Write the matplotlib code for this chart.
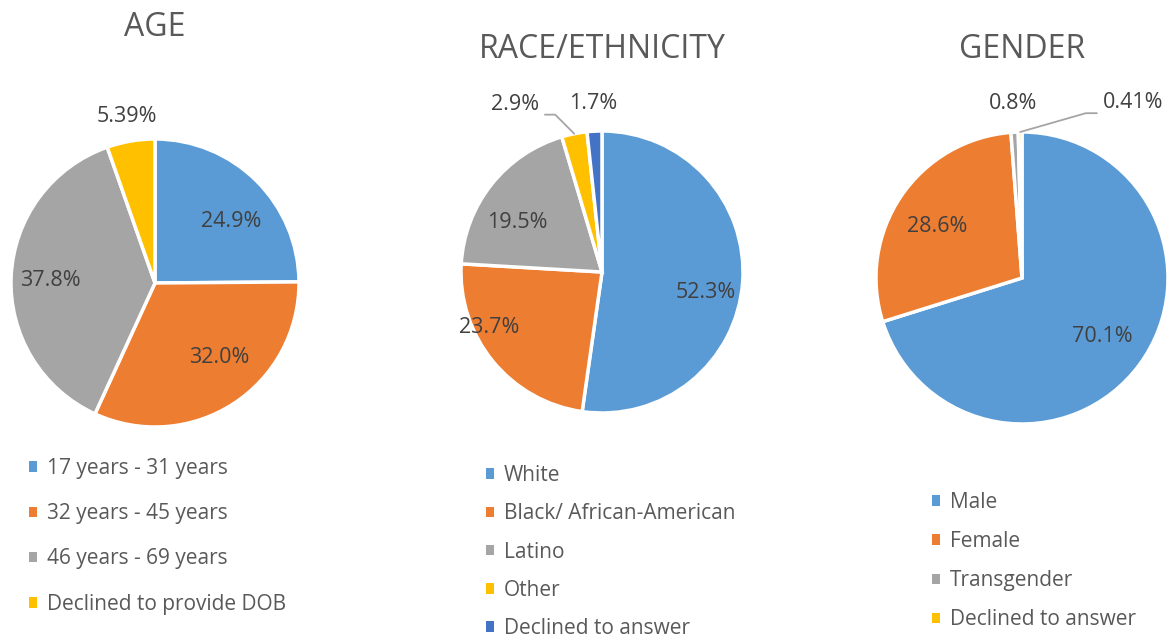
import numpy as np
import matplotlib.pyplot as plt
from matplotlib.patches import Patch

plt.rcParams['font.family'] = ['Open Sans', 'DejaVu Sans']

W, H = 1171, 637

# data
age_names = ['17 years - 31 years', '32 years - 45 years', '46 years - 69 years', 'Declined to provide DOB']
age_values = [24.9, 32.0, 37.8, 5.39]
age_text = ['24.9%', '32.0%', '37.8%', '5.39%']

race_names = ['White', 'Black/ African-American', 'Latino', 'Other', 'Declined to answer']
race_values = [52.3, 23.7, 19.5, 2.9, 1.7]
race_text = ['52.3%', '23.7%', '19.5%', '2.9%', '1.7%']

gender_names = ['Male', 'Female', 'Transgender', 'Declined to answer']
gender_values = [70.1, 28.6, 0.8, 0.41]
gender_text = ['70.1%', '28.6%', '0.8%', '0.41%']

colors = ['#5B9BD5', '#ED7D31', '#A5A5A5', '#FFC000', '#4472C4']

fig = plt.figure(figsize=(W / 100, H / 100), dpi=100)


def draw(cx, cy, r, values, texts, names, title, title_y, label_pos, leaders, leg_xy, leg_space):
    ax = fig.add_axes([(cx - r) / W, 1 - (cy + r) / H, 2 * r / W, 2 * r / H])
    wedges, _ = ax.pie(values, colors=colors[:len(values)], startangle=90, counterclock=False,
                       wedgeprops=dict(edgecolor='white', linewidth=2.5))
    ax.set_xlim(-1, 1)
    ax.set_ylim(-1, 1)
    for w, t, (d, da), lead in zip(wedges, texts, label_pos, leaders):
        mid = np.deg2rad((w.theta1 + w.theta2) / 2)
        ang = mid + np.deg2rad(da)
        xt, yt = d * np.cos(ang), d * np.sin(ang)
        if lead is None:
            ax.text(xt, yt, t, ha='center', va='center', fontsize=15.5, color='#404040')
        else:
            relpos, angB = lead
            ax.annotate(t, xy=(np.cos(mid), np.sin(mid)), xytext=(xt, yt),
                        ha='center', va='center', fontsize=15.5, color='#404040',
                        annotation_clip=False,
                        arrowprops=dict(arrowstyle='-', color='#A5A5A5', lw=1.3, relpos=relpos,
                                        shrinkA=2, shrinkB=0,
                                        connectionstyle=f'angle,angleA=0,angleB={angB},rad=0'))
    fig.text(cx / W, 1 - title_y / H, title, ha='center', va='center', fontsize=23, color='#595959')
    handles = [Patch(facecolor=c) for c in colors[:len(values)]]
    fig.legend(handles, names, loc='upper left', bbox_to_anchor=(leg_xy[0] / W, 1 - leg_xy[1] / H),
               frameon=False, fontsize=15, labelcolor='#595959', handlelength=0.4, handleheight=0.4,
               handletextpad=0.45, borderpad=0, borderaxespad=0, labelspacing=leg_space)


draw(155, 283, 144, age_values, age_text, age_names, 'AGE', 27,
     [(0.68, -6.5), (0.68, 8), (0.73, 1), (1.17, 0)],
     [None] * 4, (29, 458), 1.163)

draw(602, 272, 141, race_values, race_text, race_names, 'RACE/ETHNICITY', 50,
     [(0.75, -7), (0.89, -13), (0.70, 8), (1.34, 16), (1.2, 0)],
     [None, None, None, ((1, 0), 135), None], (486, 465), 0.83)

draw(1022, 278, 146, gender_values, gender_text, gender_names, 'GENDER', 50,
     [(0.68, 0), (0.68, 3), (1.2, 0), (1.42, -33)],
     [None, None, None, ((0, 0), 16)], (932, 492), 0.87)

fig.savefig('out.png', dpi=100)
